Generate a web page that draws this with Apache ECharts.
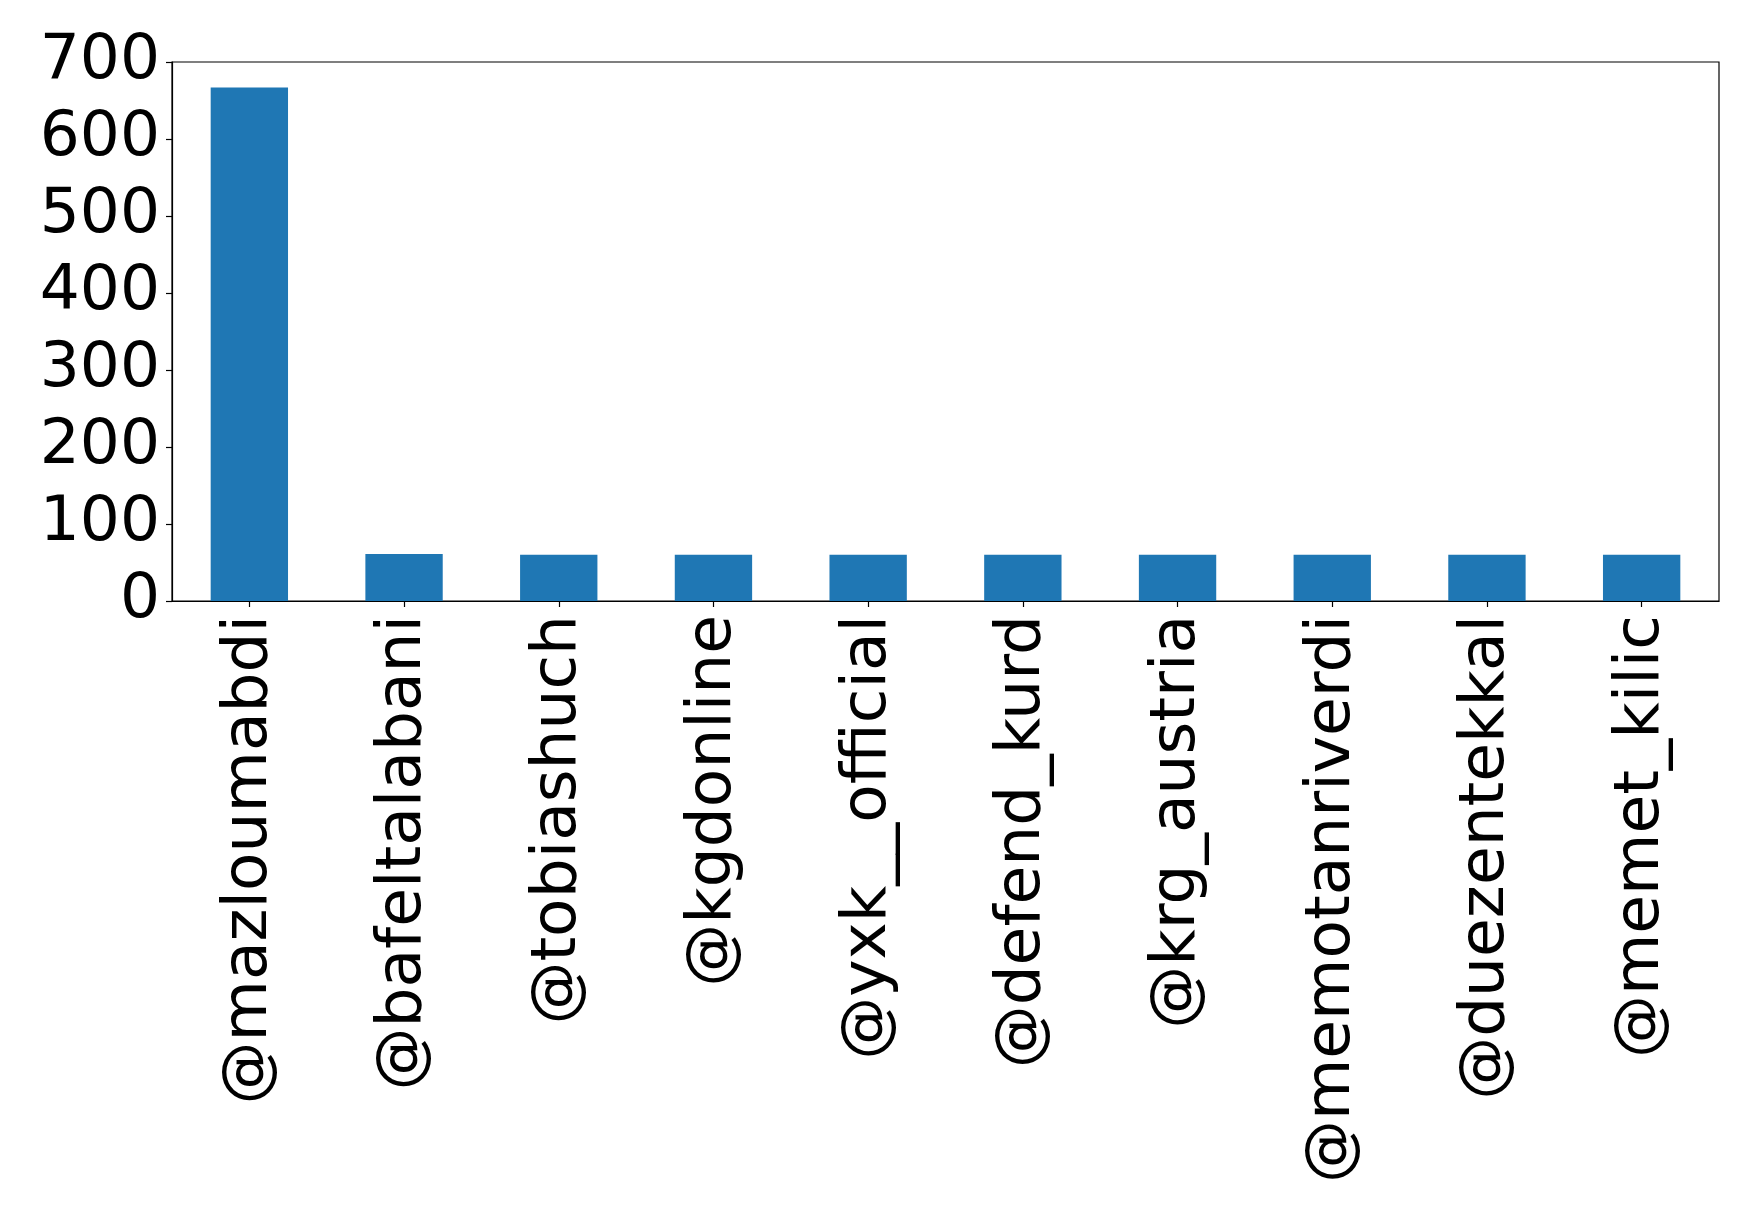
<!DOCTYPE html>
<html>
<head>
<meta charset="utf-8">
<script src="https://cdn.jsdelivr.net/npm/echarts@6/dist/echarts.min.js"></script>
<style>
html,body{margin:0;padding:0;background:#fff;}
#chart{width:1759px;height:1214px;}
</style>
</head>
<body>
<div id="chart"></div>
<script>
const categories = ['@mazloumabdi','@bafeltalabani','@tobiashuch','@kgdonline','@yxk__official','@defend_kurd','@krg_austria','@memotanriverdi','@duezentekkal','@memet_kilic'];
const values = [667, 61, 60, 60, 60, 60, 60, 60, 60, 60];
const yTicks = [0, 100, 200, 300, 400, 500, 600, 700];

const chart = echarts.init(document.getElementById('chart'), null, {renderer:'canvas'});
chart.setOption({
  animation: false,
  backgroundColor: '#ffffff',
  grid: {left: 172, right: 40, top: 62, bottom: 613, show: true, borderColor: '#000', borderWidth: 1.2, backgroundColor: 'transparent'},
  xAxis: {
    type: 'category',
    data: categories,
    boundaryGap: true,
    axisLine: {show: true, lineStyle: {color: '#000', width: 1.2}},
    axisTick: {show: true, alignWithLabel: true, length: 6, lineStyle: {color: '#000', width: 1.2}},
    axisLabel: {rotate: 90, interval: 0, margin: 14, color: '#000', fontSize: 63, fontFamily: 'DejaVu Sans'},
    splitLine: {show: false}
  },
  yAxis: {
    type: 'value',
    min: yTicks[0],
    max: yTicks[yTicks.length - 1],
    interval: 100,
    axisLine: {show: true, lineStyle: {color: '#000', width: 1.2}},
    axisTick: {show: true, length: 6, lineStyle: {color: '#000', width: 1.2}},
    axisLabel: {margin: 12, color: '#000', fontSize: 63, fontFamily: 'DejaVu Sans'},
    splitLine: {show: false}
  },
  series: [{
    type: 'bar',
    data: values,
    barWidth: '50%',
    itemStyle: {color: '#1f77b4'}
  }]
});
</script>
</body>
</html>
